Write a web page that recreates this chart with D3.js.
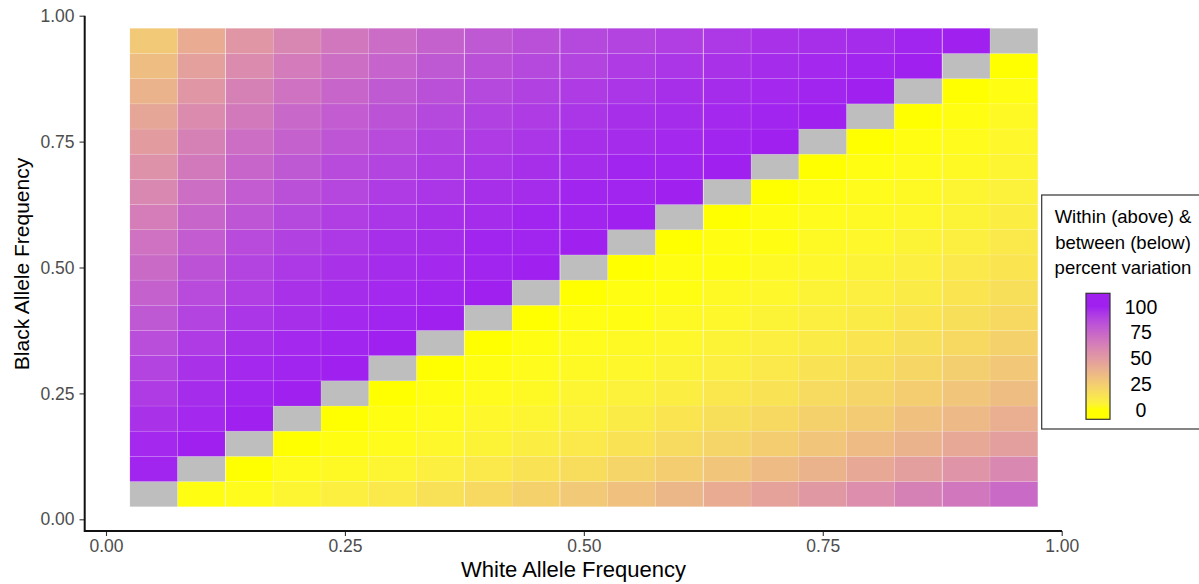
<!DOCTYPE html>
<html>
<head>
<meta charset="utf-8">
<script src="https://cdnjs.cloudflare.com/ajax/libs/d3/7.8.5/d3.min.js"></script>
<style>
  body { margin: 0; background: #fff; }
  svg { font-family: "Liberation Sans", Arial, Helvetica, sans-serif; }
</style>
</head>
<body>
<div id="chart"></div>
<script>
// allele frequencies on each axis (tile centres)
var whiteFreq = [0.05,0.10,0.15,0.20,0.25,0.30,0.35,0.40,0.45,0.50,0.55,0.60,0.65,0.70,0.75,0.80,0.85,0.90,0.95];
var blackFreq = [0.05,0.10,0.15,0.20,0.25,0.30,0.35,0.40,0.45,0.50,0.55,0.60,0.65,0.70,0.75,0.80,0.85,0.90,0.95];

// percent variation, one row per black frequency (bottom row first), one column per white frequency
// above the diagonal = within, below = between, diagonal = NA (grey)
var percentRows = [
  [null,1,2,5,8,11,15,19,23,27,31,36,41,46,51,56,62,67,73],
  [99,null,0,2,3,5,8,11,14,17,21,25,29,34,38,43,48,53,59],
  [98,100,null,0,1,2,4,6,9,11,14,18,21,25,29,34,38,43,48],
  [95,98,100,null,0,1,2,4,5,7,10,13,16,19,23,26,31,35,40],
  [92,97,99,100,null,0,1,2,3,5,7,9,12,14,18,21,25,29,33],
  [89,95,98,99,100,null,0,1,2,3,4,6,8,11,14,17,20,24,28],
  [85,92,96,98,99,100,null,0,1,2,3,4,6,8,10,13,16,19,23],
  [81,89,94,96,98,99,100,null,0,1,1,3,4,6,8,10,13,16,19],
  [77,86,91,95,97,98,99,100,null,0,1,1,3,4,6,8,10,13,16],
  [73,83,89,93,95,97,98,99,100,null,0,1,1,3,4,6,8,11,13],
  [69,79,86,90,93,96,97,99,99,100,null,0,1,1,3,4,6,8,11],
  [64,75,82,87,91,94,96,97,99,99,100,null,0,1,2,3,4,6,9],
  [59,71,79,84,88,92,94,96,97,99,99,100,null,0,1,2,3,5,7],
  [54,66,75,81,86,89,92,94,96,97,99,99,100,null,0,1,2,3,5],
  [49,62,71,77,82,86,90,92,94,96,97,98,99,100,null,0,1,2,4],
  [44,57,66,74,79,83,87,90,92,94,96,97,98,99,100,null,0,1,3],
  [38,52,62,69,75,80,84,87,90,92,94,96,97,98,99,100,null,0,1],
  [33,47,57,65,71,76,81,84,87,89,92,94,95,97,98,99,100,null,0],
  [27,41,52,60,67,72,77,81,84,87,89,91,93,95,96,97,99,100,null]
];

var axisTicks = [0, 0.25, 0.5, 0.75, 1];
var legendTicks = [0, 25, 50, 75, 100];
var legendTitle = ["Within (above) &", "between (below)", "percent variation"];

var tileHalf = 0.025;

var svg = d3.select("#chart")
  .append("svg")
  .attr("width", 1199)
  .attr("height", 584);

var x = d3.scaleLinear().domain([0, 1]).range([106, 1061.7]);
var y = d3.scaleLinear().domain([0, 1]).range([519.3, 15.7]);

// yellow -> purple in Lab, like ggplot's gradient
var color = d3.scaleLinear()
  .domain([0, 100])
  .range(["#FFFF00", "#A020F0"])
  .interpolate(d3.interpolateLab);

// flatten the rows into cells
var cells = [];
for (var r = 0; r < blackFreq.length; r++) {
  for (var c = 0; c < whiteFreq.length; c++) {
    cells.push({ wx: whiteFreq[c], by: blackFreq[r], value: percentRows[r][c] });
  }
}

svg.append("g")
  .selectAll("rect")
  .data(cells)
  .enter().append("rect")
  .attr("x", function(d) { return x(d.wx - tileHalf); })
  .attr("y", function(d) { return y(d.by + tileHalf); })
  .attr("width", function(d) { return x(d.wx + tileHalf) - x(d.wx - tileHalf); })
  .attr("height", function(d) { return y(d.by - tileHalf) - y(d.by + tileHalf); })
  .style("fill", function(d) { return d.value === null ? "#BEBEBE" : color(d.value); })
  .style("stroke", "#fff")
  .style("stroke-opacity", 0.18)
  .style("stroke-width", 0.6);

// the lighter seams that show through the tiles every few columns
svg.append("g")
  .selectAll("line")
  .data([0.125, 0.375, 0.475, 0.625, 0.875])
  .enter().append("line")
  .attr("x1", function(d) { return x(d); })
  .attr("x2", function(d) { return x(d); })
  .attr("y1", y(0.975))
  .attr("y2", y(0.025))
  .style("stroke", "#fff")
  .style("stroke-opacity", 0.45)
  .style("stroke-width", 1);

// axes
var xAxis = svg.append("g")
  .attr("transform", "translate(0,531)")
  .call(d3.axisBottom(x).tickValues(axisTicks).tickFormat(d3.format(".2f")).tickSize(5).tickPadding(4));

var yAxis = svg.append("g")
  .attr("transform", "translate(84.5,0)")
  .call(d3.axisLeft(y).tickValues(axisTicks).tickFormat(d3.format(".2f")).tickSize(5).tickPadding(5));

[xAxis, yAxis].forEach(function(a) {
  a.select(".domain").remove();
  a.selectAll(".tick line").style("stroke", "#333").style("stroke-width", 1.1);
  a.selectAll(".tick text")
    .style("font-family", "Liberation Sans, Arial, sans-serif")
    .style("font-size", "17.5px")
    .style("fill", "#4D4D4D");
});

svg.append("path")
  .attr("d", "M84.7,15.7V531H1062")
  .style("fill", "none")
  .style("stroke", "#111")
  .style("stroke-width", 2);

svg.append("text")
  .attr("x", 573.5)
  .attr("y", 577)
  .attr("text-anchor", "middle")
  .style("font-size", "22px")
  .style("fill", "#000")
  .text("White Allele Frequency");

svg.append("text")
  .attr("transform", "translate(29,264) rotate(-90)")
  .attr("text-anchor", "middle")
  .style("font-size", "21px")
  .style("fill", "#000")
  .text("Black Allele Frequency");

// legend
var legend = svg.append("g");

legend.append("rect")
  .attr("x", 1041.7)
  .attr("y", 195)
  .attr("width", 180)
  .attr("height", 234)
  .style("fill", "#fff")
  .style("stroke", "#333")
  .style("stroke-width", 1.2);

legend.selectAll(".ltitle")
  .data(legendTitle)
  .enter().append("text")
  .attr("class", "ltitle")
  .attr("x", 1123)
  .attr("y", function(d, i) { return 223 + i * 25.5; })
  .attr("text-anchor", "middle")
  .style("font-size", "18.5px")
  .style("fill", "#000")
  .text(function(d) { return d; });

var barTop = 293.3, barBottom = 419.3;
var legendY = d3.scaleLinear().domain([0, 100]).range([410, 306.5]);

var grad = svg.append("defs").append("linearGradient")
  .attr("id", "legendGrad")
  .attr("x1", 0).attr("y1", 1).attr("x2", 0).attr("y2", 0);

grad.selectAll("stop")
  .data(d3.range(0, 101, 5))
  .enter().append("stop")
  .attr("offset", function(d) { return (barBottom - legendY(d)) / (barBottom - barTop); })
  .attr("stop-color", function(d) { return color(d); });

legend.append("rect")
  .attr("x", 1086)
  .attr("y", barTop)
  .attr("width", 24)
  .attr("height", barBottom - barTop)
  .style("fill", "url(#legendGrad)")
  .style("stroke", "#333")
  .style("stroke-width", 1.2);

legend.selectAll(".llabel")
  .data(legendTicks)
  .enter().append("text")
  .attr("class", "llabel")
  .attr("x", 1141)
  .attr("y", function(d) { return legendY(d); })
  .attr("dy", "0.36em")
  .attr("text-anchor", "middle")
  .style("font-size", "19.5px")
  .style("fill", "#000")
  .text(function(d) { return d; });
</script>
</body>
</html>
